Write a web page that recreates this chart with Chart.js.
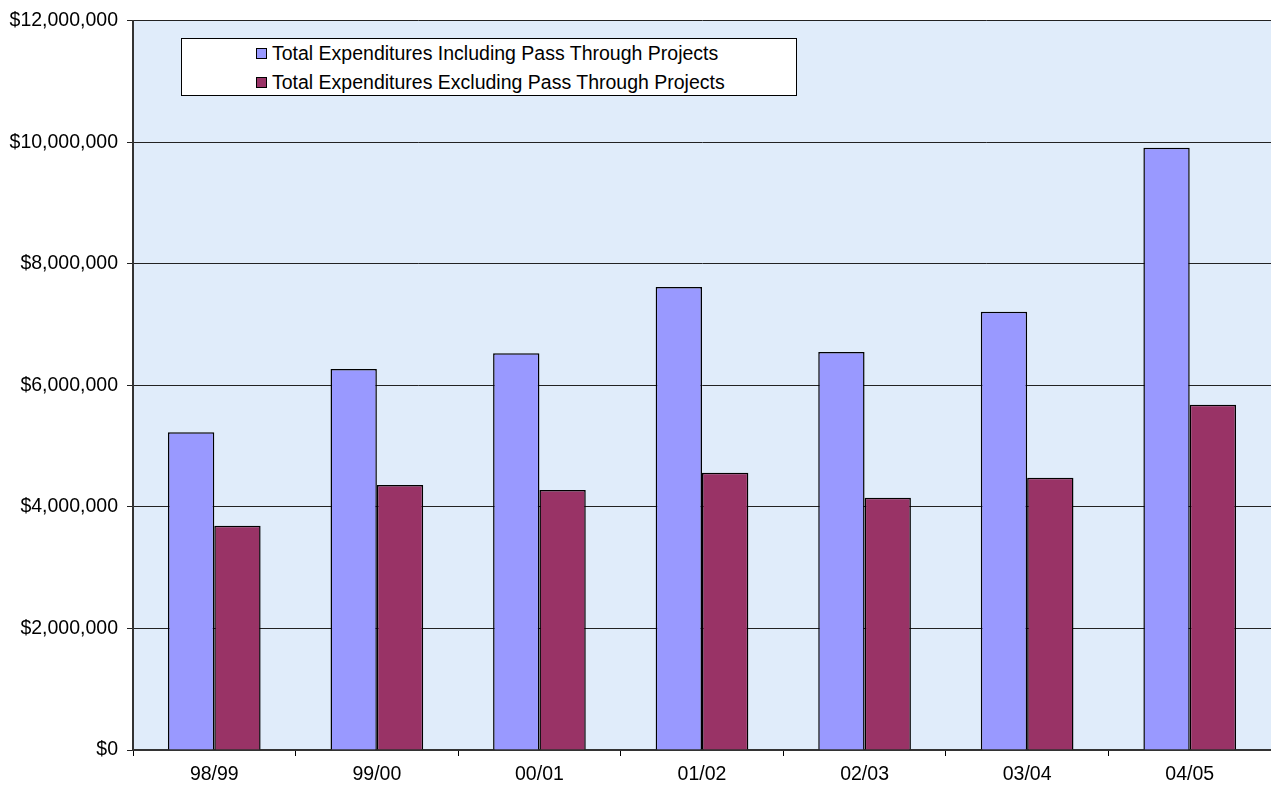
<!DOCTYPE html>
<html>
<head>
<meta charset="utf-8">
<script src="https://cdn.jsdelivr.net/npm/chart.js@4"></script>
<style>
  body { margin: 0; background: #fff; }
  #wrap { position: relative; width: 1271px; height: 789px; }
  #legend {
    position: absolute; left: 181px; top: 38px; width: 614px; height: 56px;
    background: #fff; border: 1px solid #000;
    font-family: "Liberation Sans", Arial, sans-serif; font-size: 19.5px; color: #000;
  }
  #legend div { position: absolute; left: 74px; white-space: nowrap; line-height: 22px; }
  #legend span { display: inline-block; width: 9px; height: 9px; border: 1px solid #000; margin-right: 5px; vertical-align: 1px; }
</style>
</head>
<body>
<div id="wrap">
  <canvas id="expChart" width="1271" height="789"></canvas>
  <div id="legend">
    <div style="top:3px"><span style="background:#9999ff"></span>Total Expenditures Including Pass Through Projects</div>
    <div style="top:32px"><span style="background:#993366"></span>Total Expenditures Excluding Pass Through Projects</div>
  </div>
</div>
<script>
// fiscal years
var years = ['98/99', '99/00', '00/01', '01/02', '02/03', '03/04', '04/05'];
// values
var includingPassThrough = [5230000, 6270000, 6530000, 7620000, 6550000, 7210000, 9910000];
var excludingPassThrough = [3690000, 4360000, 4280000, 4560000, 4150000, 4480000, 5680000];
var yTicks = [0, 2000000, 4000000, 6000000, 8000000, 10000000, 12000000];

// fond de la zone de tracé
var plotBackground = {
    id: 'plotBackground',
    beforeDraw: function(chart) {
        var a = chart.chartArea;
        var ctx = chart.ctx;
        ctx.save();
        ctx.fillStyle = '#e0ecfa';
        ctx.fillRect(a.left, a.top, a.right - a.left, a.bottom - a.top);
        ctx.restore();
    }
};

var ctx = document.getElementById('expChart').getContext('2d');
var expChart = new Chart(ctx, {
    type: 'bar',
    data: {
        labels: years,
        datasets: [{
            label: 'Total Expenditures Including Pass Through Projects',
            backgroundColor: '#9999ff',
            borderColor: '#000',
            borderWidth: 1.5,
            data: includingPassThrough
        }, {
            label: 'Total Expenditures Excluding Pass Through Projects',
            backgroundColor: '#993366',
            borderColor: '#000',
            borderWidth: 1.5,
            data: excludingPassThrough
        }]
    },
    options: {
        responsive: false,
        animation: false,
        layout: { padding: { top: 11, right: 0, left: 0, bottom: 0 } },
        datasets: { bar: { categoryPercentage: 0.57, barPercentage: 1.0 } },
        plugins: {
            legend: { display: false },
            tooltip: { enabled: false }
        },
        scales: {
            x: {
                offset: true,
                grid: { offset: true, drawOnChartArea: false, color: '#000', tickLength: 6 },
                border: { color: '#333', width: 2 },
                ticks: { color: '#000', padding: 7, font: { family: 'Liberation Sans', size: 19.5 } },
                afterFit: function(axis) { axis.height = 39; }
            },
            y: {
                min: 0,
                max: 12000000,
                afterBuildTicks: function(axis) {
                    axis.ticks = yTicks.map(function(v) { return { value: v }; });
                },
                grid: { color: '#222', lineWidth: 1, tickLength: 6 },
                border: { color: '#333', width: 2 },
                ticks: {
                    color: '#000',
                    padding: 9,
                    font: { family: 'Liberation Sans', size: 19.5 },
                    callback: function(v) { return '$' + v.toLocaleString('en-US'); }
                },
                afterFit: function(axis) { axis.width = 133; }
            }
        }
    },
    plugins: [plotBackground]
});
</script>
</body>
</html>
